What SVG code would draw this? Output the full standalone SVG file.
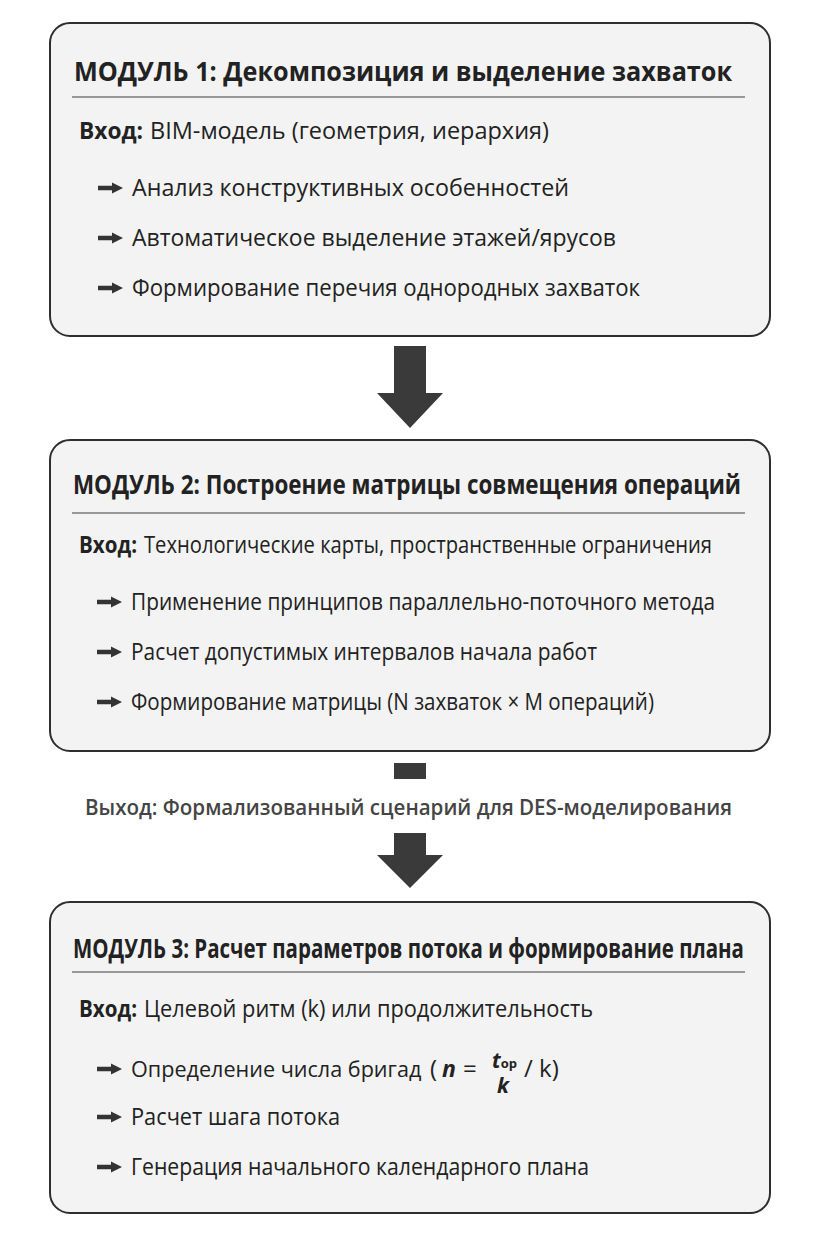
<svg xmlns="http://www.w3.org/2000/svg" xmlns:xlink="http://www.w3.org/1999/xlink" width="820" height="1258" viewBox="0 0 820 1258">
<style>
.box{fill:#f3f3f3;stroke:#2e2e2e;stroke-width:2}
.sep{stroke:#7a7a7a;stroke-width:1.5}
.t{font-family:"Open Sans","Noto Sans","DejaVu Sans",sans-serif;fill:#222}
.title{font-family:"Liberation Sans Narrow","Open Sans","DejaVu Sans",sans-serif;font-size:27px;font-weight:700}
.inb{font-size:23px;font-weight:700}
.inp{font-size:23px}
.bl{font-size:24px}
.out{font-size:22px;font-weight:600;fill:#444}
.m{font-weight:700;font-style:italic}
.flow{fill:#3a3a3a}
.bul{fill:#333}
</style>
<defs>
<path id="ba" d="M0,-2.3 H14 V-5.5 L25,0 L14,5.5 V2.3 H0 Z"/>
</defs>
<rect width="820" height="1258" fill="#ffffff"/>

<g id="connectors">
<polygon class="flow" points="394,346 426,346 426,393 443,393 410,428 377,393 394,393"/>
<rect class="flow" x="394" y="763" width="32" height="16"/>
<polygon class="flow" points="394,833 426,833 426,855 443,855 410,888 377,855 394,855"/>
<text class="t out" x="85" y="815" textLength="647" lengthAdjust="spacingAndGlyphs">Выход: Формализованный сценарий для DES-моделирования</text>
</g>

<g id="module1">
<rect class="box" x="50" y="23" width="720" height="313" rx="20"/>
<text class="t title" x="74" y="81" textLength="658" lengthAdjust="spacingAndGlyphs">МОДУЛЬ 1: Декомпозиция и выделение захваток</text>
<line class="sep" x1="72" y1="97" x2="745" y2="97"/>
<text class="t inb" x="79" y="139" textLength="64" lengthAdjust="spacingAndGlyphs">Вход:</text>
<text class="t inp" x="150" y="139" textLength="399" lengthAdjust="spacingAndGlyphs">BIM-модель (геометрия, иерархия)</text>
<use class="bul" xlink:href="#ba" x="98" y="188"/>
<text class="t bl" x="132" y="196" textLength="437" lengthAdjust="spacingAndGlyphs">Анализ конструктивных особенностей</text>
<use class="bul" xlink:href="#ba" x="98" y="238"/>
<text class="t bl" x="132" y="246" textLength="484" lengthAdjust="spacingAndGlyphs">Автоматическое выделение этажей/ярусов</text>
<use class="bul" xlink:href="#ba" x="98" y="288"/>
<text class="t bl" x="132" y="296" textLength="508" lengthAdjust="spacingAndGlyphs">Формирование перечия однородных захваток</text>
</g>

<g id="module2">
<rect class="box" x="50" y="440" width="720" height="311" rx="20"/>
<text class="t title" x="73" y="494" textLength="668" lengthAdjust="spacingAndGlyphs">МОДУЛЬ 2: Построение матрицы совмещения операций</text>
<line class="sep" x1="72" y1="513" x2="745" y2="513"/>
<text class="t inb" x="79" y="553" textLength="58" lengthAdjust="spacingAndGlyphs">Вход:</text>
<text class="t inp" x="144" y="553" textLength="568" lengthAdjust="spacingAndGlyphs">Технологические карты, пространственные ограничения</text>
<use class="bul" xlink:href="#ba" x="97" y="602"/>
<text class="t bl" x="131" y="610" textLength="584" lengthAdjust="spacingAndGlyphs">Применение принципов параллельно-поточного метода</text>
<use class="bul" xlink:href="#ba" x="97" y="652"/>
<text class="t bl" x="131" y="660" textLength="466" lengthAdjust="spacingAndGlyphs">Расчет допустимых интервалов начала работ</text>
<use class="bul" xlink:href="#ba" x="97" y="702"/>
<text class="t bl" x="131" y="710" textLength="523" lengthAdjust="spacingAndGlyphs">Формирование матрицы (N захваток × M операций)</text>
</g>

<g id="module3">
<rect class="box" x="50" y="902" width="720" height="311" rx="20"/>
<text class="t title" x="73" y="958" textLength="671" lengthAdjust="spacingAndGlyphs">МОДУЛЬ 3: Расчет параметров потока и формирование плана</text>
<line class="sep" x1="72" y1="972" x2="745" y2="972"/>
<text class="t inb" x="79" y="1017" textLength="58" lengthAdjust="spacingAndGlyphs">Вход:</text>
<text class="t inp" x="144" y="1017" textLength="449" lengthAdjust="spacingAndGlyphs">Целевой ритм (k) или продолжительность</text>
<use class="bul" xlink:href="#ba" x="97" y="1069"/>
<text class="t bl" y="1077"><tspan x="131" font-size="21.6">Определение числа бригад</tspan><tspan x="430">(</tspan><tspan x="442" class="m" font-size="23">n</tspan><tspan x="463">=</tspan><tspan x="492" y="1068" class="m" font-size="21">t</tspan><tspan y="1068" font-size="13" font-weight="700">op</tspan><tspan x="497" y="1093" class="m" font-size="21">k</tspan><tspan x="524" y="1077">/ k)</tspan></text>
<use class="bul" xlink:href="#ba" x="97" y="1117"/>
<text class="t bl" x="131" y="1125" textLength="209" lengthAdjust="spacingAndGlyphs">Расчет шага потока</text>
<use class="bul" xlink:href="#ba" x="97" y="1167"/>
<text class="t bl" x="131" y="1175" textLength="458" lengthAdjust="spacingAndGlyphs">Генерация начального календарного плана</text>
</g>
</svg>
